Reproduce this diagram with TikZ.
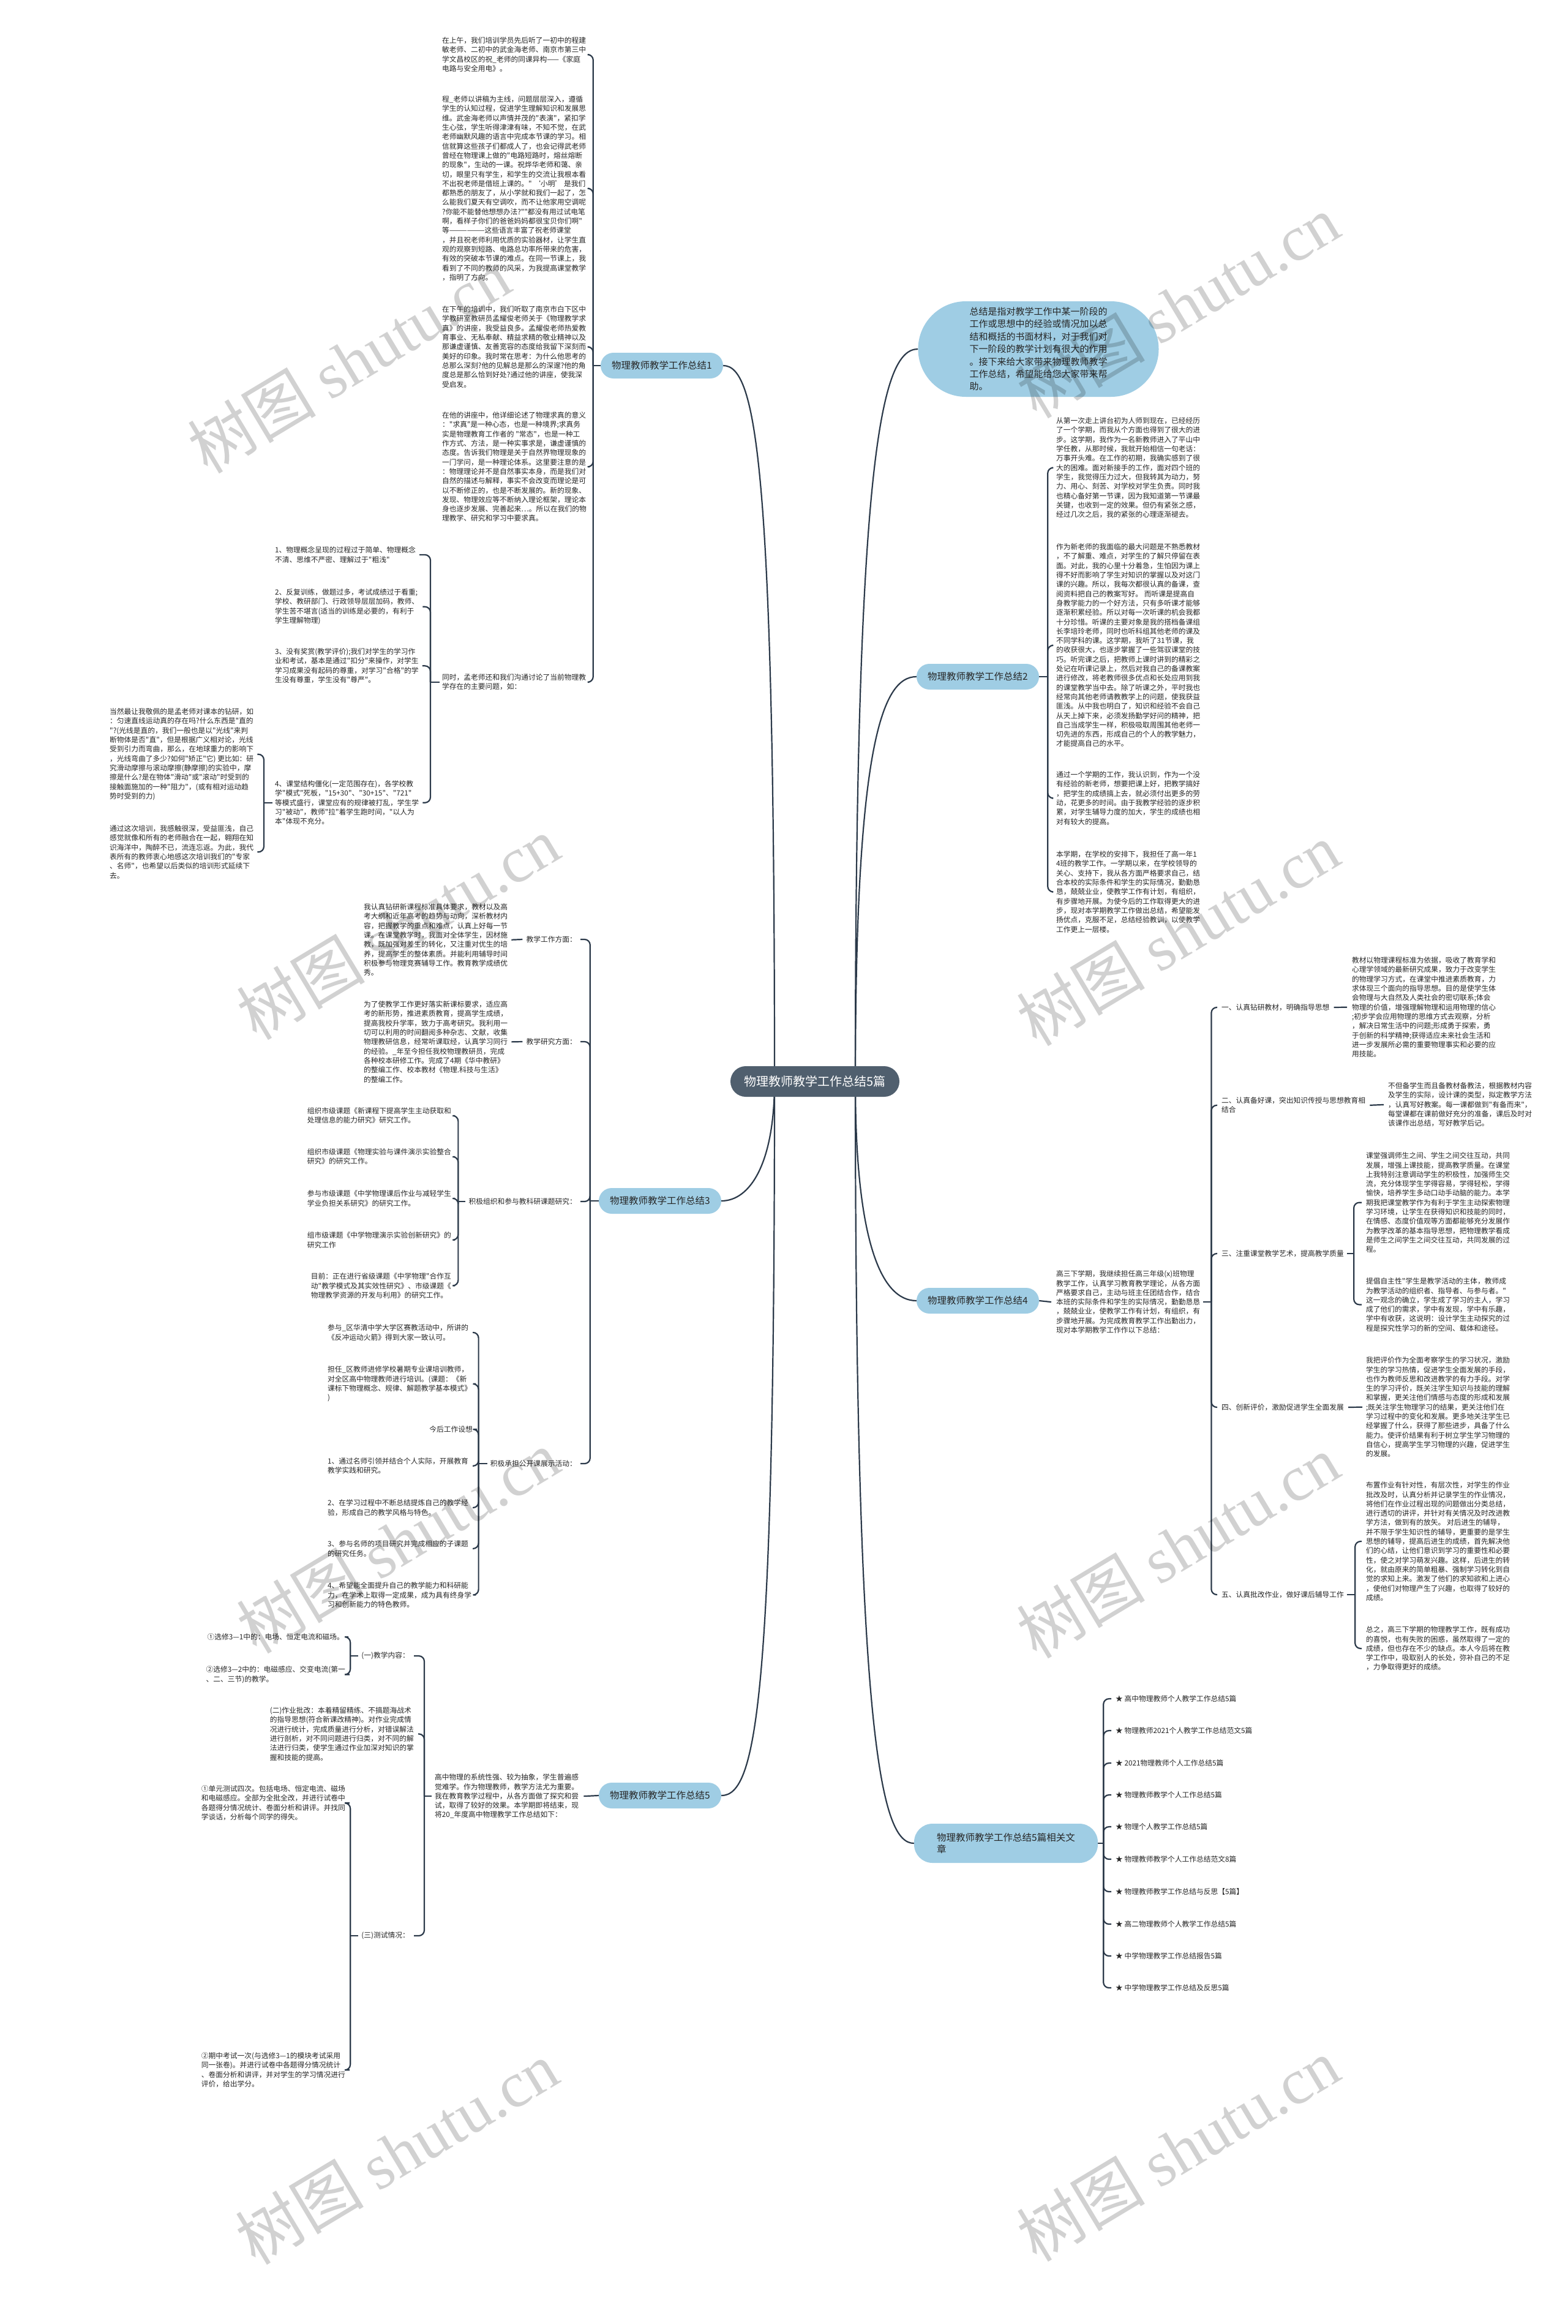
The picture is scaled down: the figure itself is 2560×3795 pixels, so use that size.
\documentclass[tikz,border=0pt]{standalone}
\usepackage{fontspec}
\setmainfont{Noto Sans CJK SC}
\newfontfamily\cjk{Noto Sans CJK SC}
\newfontfamily\wmlat{Liberation Serif}
\usetikzlibrary{backgrounds,calc}
\definecolor{lnc}{HTML}{2C3A4A}
\definecolor{txc}{HTML}{262626}
\definecolor{bluef}{HTML}{9FCDE4}
\definecolor{ctrf}{HTML}{505F6E}
\tikzset{
 blk/.style={font=\cjk\fontsize{11.75}{15.3}\selectfont, text=txc, align=left, inner sep=0pt, anchor=north west},
 blke/.style={blk, anchor=north east},
 lbl/.style={font=\cjk\fontsize{11.75}{15.3}\selectfont, text=txc, align=left, inner sep=0pt},
 brn/.style={fill=bluef, rounded corners=21pt, minimum height=42pt, minimum width=200pt, inner sep=0pt, font=\cjk\fontsize{15.5}{19}\selectfont, text=txc, align=center},
 ctr/.style={fill=ctrf, text=white, rounded corners=25pt, minimum width=276pt, minimum height=50pt, inner sep=0pt, font=\cjk\fontsize{20}{24}\selectfont},
 ln/.style={draw=lnc, line width=2.2pt},
 bk/.style={ln, rounded corners=9pt},
 wm/.style={font=\fontsize{105}{105}\selectfont, text=black, opacity=0.18, rotate=31, inner sep=0pt}
}
\begin{document}
\begin{tikzpicture}[x=1pt,y=-1pt]
\useasboundingbox (0,0) rectangle (2560,3795);

% ---------- centre and main branches
\node[ctr] (C) at (1331,1766) {物理教师教学工作总结5篇};
\coordinate (CL) at (1265,1766);
\coordinate (CR) at (1397,1766);
\node[brn] (N1) at (1081,597) {物理教师教学工作总结1};
\node[brn] (N2) at (1597,1105) {物理教师教学工作总结2};
\node[brn] (N3) at (1078,1961) {物理教师教学工作总结3};
\node[brn] (N4) at (1597,2124) {物理教师教学工作总结4};
\node[brn] (N5) at (1078,2932) {物理教师教学工作总结5};
\node[brn, minimum width=300pt, minimum height=64pt, rounded corners=30pt, align=left] (NR) at (1643,3010) {物理教师教学工作总结5篇相关文\\章};
\node[fill=bluef, rounded corners=78pt, minimum width=393pt, minimum height=156pt, inner sep=0pt, align=left, text=txc, font=\cjk\fontsize{15}{20.4}\selectfont] (NI) at (1696,570) {总结是指对教学工作中某一阶段的\\工作或思想中的经验或情况加以总\\结和概括的书面材料，对于我们对\\下一阶段的教学计划有很大的作用\\。接下来给大家带来物理教师教学\\工作总结，希望能给您大家带来帮\\助。};

% ---------- branch 1
\node[blk] (B1a) at (722,60.5) {在上午，我们培训学员先后听了一初中的程建\\敏老师、二初中的武金海老师、南京市第三中\\学文昌校区的祝\_老师的同课异构——《家庭\\电路与安全用电》。};
\node[blk] (B1b) at (722,156.5) {程\_老师以讲稿为主线，问题层层深入，遵循\\学生的认知过程，促进学生理解知识和发展思\\维。武金海老师以声情并茂的"表演"，紧扣学\\生心弦，学生听得津津有味，不知不觉，在武\\老师幽默风趣的语言中完成本节课的学习。相\\信就算这些孩子们都成人了，也会记得武老师\\曾经在物理课上做的"电路短路时，熔丝熔断\\的现象"，生动的一课。祝烨华老师和蔼、亲\\切，眼里只有学生，和学生的交流让我根本看\\不出祝老师是借班上课的。" ‘小明’ 是我们\\都熟悉的朋友了，从小学就和我们一起了，怎\\么能我们夏天有空调吹，而不让他家用空调呢\\?你能不能替他想想办法?""都没有用过试电笔\\啊，看样子你们的爸爸妈妈都很宝贝你们啊"\\等——————这些语言丰富了祝老师课堂\\，并且祝老师利用优质的实验器材，让学生直\\观的观察到短路、电路总功率所带来的危害，\\有效的突破本节课的难点。在同一节课上，我\\看到了不同的教师的风采，为我提高课堂教学\\，指明了方向。};
\node[blk] (B1c) at (722,499.5) {在下午的培训中，我们听取了南京市白下区中\\学教研室教研员孟耀俊老师关于《物理教学求\\真》的讲座，我受益良多。孟耀俊老师热爱教\\育事业、无私奉献、精益求精的敬业精神以及\\那谦虚谨慎、友善宽容的态度给我留下深刻而\\美好的印象。我时常在思考：为什么他思考的\\总那么深刻?他的见解总是那么的深邃?他的角\\度总是那么恰到好处?通过他的讲座，使我深\\受启发。};
\node[blk] (B1d) at (722,672.5) {在他的讲座中，他详细论述了物理求真的意义\\："求真"是一种心态，也是一种境界;求真务\\实是物理教育工作者的 "常态"，也是一种工\\作方式、方法，是一种实事求是，谦虚谨慎的\\态度。告诉我们物理是关于自然界物理现象的\\一门学问，是一种理论体系。这里要注意的是\\：物理理论并不是自然事实本身，而是我们对\\自然的描述与解释，事实不会改变而理论是可\\以不断修正的，也是不断发展的。新的现象、\\发现、物理效应等不断纳入理论框架，理论本\\身也逐步发展、完善起来…。所以在我们的物\\理教学、研究和学习中要求真。};
\node[blk] (B1e) at (722,1100.5) {同时，孟老师还和我们沟通讨论了当前物理教\\学存在的主要问题，如：};
\node[blk] (B1e1) at (449,892.5) {1、物理概念呈现的过程过于简单、物理概念\\不清、思维不严密、理解过于"粗浅"};
\node[blk] (B1e2) at (449,961.5) {2、反复训练，做题过多，考试成绩过于看重;\\学校、教研部门、行政领导层层加码，教师、\\学生苦不堪言(适当的训练是必要的，有利于\\学生理解物理)};
\node[blk] (B1e3) at (449,1058.5) {3、没有奖赏(教学评价);我们对学生的学习作\\业和考试，基本是通过"扣分"来操作，对学生\\学习成果没有起码的尊重，对学习"合格"的学\\生没有尊重，学生没有"尊严"。};
\node[blk] (B1e4) at (449,1274.5) {4、课堂结构僵化(一定范围存在)，各学校教\\学"模式"死板，"15+30"、"30+15"、"721"\\等模式盛行，课堂应有的规律被打乱，学生学\\习"被动"，教师"拉"着学生跑时间，"以人为\\本"体现不充分。};
\node[blk] (B1e4a) at (179,1156.5) {当然最让我敬佩的是孟老师对课本的钻研，如\\：匀速直线运动真的存在吗?什么东西是"直的\\"?(光线是直的，我们一般也是以"光线"来判\\断物体是否"直"，但是根据广义相对论，光线\\受到引力而弯曲，那么，在地球重力的影响下\\，光线弯曲了多少?如何"矫正"它) 更比如：研\\究滑动摩擦与滚动摩擦(静摩擦)的实验中，摩\\擦是什么?是在物体"滑动"或"滚动"时受到的\\接触面施加的一种"阻力"，(或有相对运动趋\\势时受到的力)};
\node[blk] (B1e4b) at (179,1347.5) {通过这次培训，我感触很深，受益匪浅，自己\\感觉就像和所有的老师融合在一起，翱翔在知\\识海洋中，陶醉不已，流连忘返。为此，我代\\表所有的教师衷心地感这次培训我们的"专家\\、名师"，也希望以后类似的培训形式延续下\\去。};

% ---------- branch 2
\node[blk] (B2a) at (1725,681.5) {从第一次走上讲台初为人师到现在，已经经历\\了一个学期，而我从个方面也得到了很大的进\\步。这学期，我作为一名新教师进入了平山中\\学任教，从那时候，我就开始相信一句老话：\\万事开头难。在工作的初期，我确实感到了很\\大的困难。面对新接手的工作，面对四个班的\\学生，我觉得压力过大，但我转其为动力，努\\力、用心、刻苦、对学校对学生负责。同时我\\也精心备好第一节课，因为我知道第一节课最\\关键，也收到一定的效果。但仍有紧张之感，\\经过几次之后，我的紧张的心理逐渐褪去。};
\node[blk] (B2b) at (1725,887.5) {作为新老师的我面临的最大问题是不熟悉教材\\，不了解重、难点，对学生的了解只停留在表\\面。对此，我的心里十分着急，生怕因为课上\\得不好而影响了学生对知识的掌握以及对这门\\课的兴趣。所以，我每次都很认真的备课，查\\阅资料把自己的教案写好。 而听课是提高自\\身教学能力的一个好方法，只有多听课才能够\\逐渐积累经验。所以对每一次听课的机会我都\\十分珍惜。听课的主要对象是我的搭档备课组\\长李培玲老师，同时也听科组其他老师的课及\\不同学科的课。这学期，我听了31节课，我\\的收获很大，也逐步掌握了一些驾驭课堂的技\\巧。听完课之后，把教师上课时讲到的精彩之\\处记在听课记录上，然后对我自己的备课教案\\进行修改，将老教师很多优点和长处应用到我\\的课堂教学当中去。除了听课之外，平时我也\\经常向其他老师请教教学上的问题，使我获益\\匪浅。从中我也明白了，知识和经验不会自己\\从天上掉下来，必须发扬勤学好问的精神，把\\自己当成学生一样，积极吸取周围其他老师一\\切先进的东西，形成自己的个人的教学魅力，\\才能提高自己的水平。};
\node[blk] (B2c) at (1725,1259.5) {通过一个学期的工作，我认识到，作为一个没\\有经验的新老师，想要把课上好，把教学搞好\\，把学生的成绩搞上去，就必须付出更多的劳\\动，花更多的时间。由于我教学经验的逐步积\\累，对学生辅导力度的加大，学生的成绩也相\\对有较大的提高。};
\node[blk] (B2d) at (1725,1389.5) {本学期，在学校的安排下，我担任了高一年1\\4班的教学工作。一学期以来，在学校领导的\\关心、支持下，我从各方面严格要求自己，结\\合本校的实际条件和学生的实际情况，勤勤恳\\恳，兢兢业业，使教学工作有计划，有组织，\\有步骤地开展。为使今后的工作取得更大的进\\步，现对本学期教学工作做出总结，希望能发\\扬优点，克服不足，总结经验教训，以使教学\\工作更上一层楼。};

% ---------- branch 3
\node[lbl, anchor=east] (L3a) at (942,1534) {教学工作方面：};
\node[lbl, anchor=east] (L3b) at (942,1701) {教学研究方面：};
\node[lbl, anchor=east] (L3c) at (942,1962) {积极组织和参与教科研课题研究：};
\node[lbl, anchor=east] (L3d) at (942,2390) {积极承担公开课展示活动：};
\node[blk] (B3a) at (594,1475.5) {我认真钻研新课程标准具体要求，教材以及高\\考大纲和近年高考的趋势与动向，深析教材内\\容，把握教学的重点和难点，认真上好每一节\\课。在课堂教学时，我面对全体学生，因材施\\教，既加强对差生的转化，又注重对优生的培\\养，提高学生的整体素质。并能利用辅导时间\\积极参与物理竞赛辅导工作。教育教学成绩优\\秀。};
\node[blk] (B3b) at (594,1634.5) {为了使教学工作更好落实新课标要求，适应高\\考的新形势，推进素质教育，提高学生成绩，\\提高我校升学率，致力于高考研究。我利用一\\切可以利用的时间翻阅多种杂志、文献，收集\\物理教研信息，经常听课取经，认真学习同行\\的经验。\_年至今担任我校物理教研员，完成\\各种校本研修工作。完成了4期《华中教研》\\的整编工作、校本教材《物理.科技与生活》\\的整编工作。};
\node[blke] (B3c1) at (737,1808.5) {组织市级课题《新课程下提高学生主动获取和\\处理信息的能力研究》研究工作。};
\node[blke] (B3c2) at (737,1875.5) {组织市级课题《物理实验与课件演示实验整合\\研究》的研究工作。};
\node[blke] (B3c3) at (737,1943.5) {参与市级课题《中学物理课后作业与减轻学生\\学业负担关系研究》的研究工作。};
\node[blke] (B3c4) at (737,2011.5) {组市级课题《中学物理演示实验创新研究》的\\研究工作};
\node[blke] (B3c5) at (737,2078.5) {目前：正在进行省级课题《中学物理"合作互\\动"教学模式及其实效性研究》、市级课题《\\物理教学资源的开发与利用》的研究工作。};
\node[blk] (B3d1) at (535,2162.5) {参与\_区华清中学大学区赛教活动中，所讲的\\《反冲运动火箭》得到大家一致认可。};
\node[blk] (B3d2) at (535,2230.5) {担任\_区教师进修学校暑期专业课培训教师，\\对全区高中物理教师进行培训。(课题：《新\\课标下物理概念、规律、解题教学基本模式》\\)};
\node[lbl, anchor=east] (B3d3) at (772,2334) {今后工作设想};
\node[blk] (B3d4) at (535,2380.5) {1、通过名师引领并结合个人实际，开展教育\\教学实践和研究。};
\node[blk] (B3d5) at (535,2448.5) {2、在学习过程中不断总结提炼自己的教学经\\验，形成自己的教学风格与特色。};
\node[blk] (B3d6) at (535,2515.5) {3、参与名师的项目研究并完成相应的子课题\\的研究任务。};
\node[blk] (B3d7) at (535,2583.5) {4、希望能全面提升自己的教学能力和科研能\\力，在学术上取得一定成果，成为具有终身学\\习和创新能力的特色教师。};

% ---------- branch 4
\node[blk] (B4) at (1725,2074.5) {高三下学期，我继续担任高三年级(x)班物理\\教学工作，认真学习教育教学理论，从各方面\\严格要求自己，主动与班主任团结合作，结合\\本班的实际条件和学生的实际情况，勤勤恳恳\\，兢兢业业，使教学工作有计划，有组织，有\\步骤地开展。为完成教育教学工作出勤出力，\\现对本学期教学工作作以下总结：};
\node[lbl, anchor=west] (L4a) at (1995,1645) {一、认真钻研教材，明确指导思想};
\node[blk] (L4b) at (1995,1791.5) {二、认真备好课，突出知识传授与思想教育相\\结合};
\node[lbl, anchor=west] (L4c) at (1995,2047) {三、注重课堂教学艺术，提高教学质量};
\node[lbl, anchor=west] (L4d) at (1995,2298) {四、创新评价，激励促进学生全面发展};
\node[lbl, anchor=west] (L4e) at (1995,2604) {五、认真批改作业，做好课后辅导工作};
\node[blk] (B4a) at (2208,1562.5) {教材以物理课程标准为依据，吸收了教育学和\\心理学领域的最新研究成果，致力于改变学生\\的物理学习方式，在课堂中推进素质教育，力\\求体现三个面向的指导思想。目的是使学生体\\会物理与大自然及人类社会的密切联系;体会\\物理的价值，增强理解物理和运用物理的信心\\;初步学会应用物理的思维方式去观察，分析\\，解决日常生活中的问题;形成勇于探索，勇\\于创新的科学精神;获得适应未来社会生活和\\进一步发展所必需的重要物理事实和必要的应\\用技能。};
\node[blk] (B4b) at (2267,1767.5) {不但备学生而且备教材备教法，根据教材内容\\及学生的实际，设计课的类型，拟定教学方法\\，认真写好教案。每一课都做到"有备而来"，\\每堂课都在课前做好充分的准备，课后及时对\\该课作出总结，写好教学后记。};
\node[blk] (B4c1) at (2231,1881.5) {课堂强调师生之间、学生之间交往互动，共同\\发展，增强上课技能，提高教学质量。在课堂\\上我特别注意调动学生的积极性，加强师生交\\流，充分体现学生学得容易，学得轻松，学得\\愉快，培养学生多动口动手动脑的能力。本学\\期我把课堂教学作为有利于学生主动探索物理\\学习环境，让学生在获得知识和技能的同时，\\在情感、态度价值观等方面都能够充分发展作\\为教学改革的基本指导思想，把物理教学看成\\是师生之间学生之间交往互动，共同发展的过\\程。};
\node[blk] (B4c2) at (2231,2086.5) {提倡自主性"学生是教学活动的主体，教师成\\为教学活动的组织者、指导者、与参与者。"\\这一观念的确立，学生成了学习的主人，学习\\成了他们的需求，学中有发现，学中有乐趣，\\学中有收获，这说明：设计学生主动探究的过\\程是探究性学习的新的空间、载体和途径。};
\node[blk] (B4d) at (2231,2215.5) {我把评价作为全面考察学生的学习状况，激励\\学生的学习热情，促进学生全面发展的手段，\\也作为教师反思和改进教学的有力手段。对学\\生的学习评价，既关注学生知识与技能的理解\\和掌握，更关注他们情感与态度的形成和发展\\;既关注学生物理学习的结果，更关注他们在\\学习过程中的变化和发展。更多地关注学生已\\经掌握了什么，获得了那些进步，具备了什么\\能力。使评价结果有利于树立学生学习物理的\\自信心，提高学生学习物理的兴趣，促进学生\\的发展。};
\node[blk] (B4e1) at (2231,2419.5) {布置作业有针对性，有层次性，对学生的作业\\批改及时，认真分析并记录学生的作业情况，\\将他们在作业过程出现的问题做出分类总结，\\进行透切的讲评，并针对有关情况及时改进教\\学方法，做到有的放矢。 对后进生的辅导，\\并不限于学生知识性的辅导，更重要的是学生\\思想的辅导，提高后进生的成绩，首先解决他\\们的心结，让他们意识到学习的重要性和必要\\性，使之对学习萌发兴趣。这样，后进生的转\\化，就由原来的简单粗暴、强制学习转化到自\\觉的求知上来。激发了他们的求知欲和上进心\\，使他们对物理产生了兴趣，也取得了较好的\\成绩。};
\node[blk] (B4e2) at (2231,2655.5) {总之，高三下学期的物理教学工作，既有成功\\的喜悦，也有失败的困惑，虽然取得了一定的\\成绩，但也存在不少的缺点。本人今后将在教\\学工作中，吸取别人的长处，弥补自己的不足\\，力争取得更好的成绩。};

% ---------- branch 5
\node[blk] (B5) at (710,2896.5) {高中物理的系统性强、较为抽象，学生普遍感\\觉难学。作为物理教师，教学方法尤为重要。\\我在教育教学过程中，从各方面做了探究和尝\\试，取得了较好的效果。本学期即将结束，现\\将20\_年度高中物理教学工作总结如下：};
\node[lbl, anchor=east] (L5a) at (669,2704) {(一)教学内容：};
\node[blke] (B5b) at (676,2787.5) {(二)作业批改：本着精留精练、不搞题海战术\\的指导思想(符合新课改精神)。对作业完成情\\况进行统计，完成质量进行分析，对错误解法\\进行剖析，对不同问题进行归类，对不同的解\\法进行归类，使学生通过作业加深对知识的掌\\握和技能的提高。};
\node[lbl, anchor=east] (L5c) at (669,3161) {(三)测试情况：};
\node[lbl, anchor=east] (I5a1) at (562,2673) {①选修3—1中的：电场、恒定电流和磁场。};
\node[blke] (I5a2) at (564,2720.5) {②选修3—2中的：电磁感应、交变电流(第一\\、二、三节)的教学。};
\node[blke] (I5c1) at (564,2915.5) {①单元测试四次。包括电场、恒定电流、磁场\\和电磁感应。全部为全批全改，并进行试卷中\\各题得分情况统计、卷面分析和讲评。并找同\\学谈话，分析每个同学的得失。};
\node[blke] (I5c2) at (564,3351.5) {②期中考试一次(与选修3—1的模块考试采用\\同一张卷)。并进行试卷中各题得分情况统计\\、卷面分析和讲评，并对学生的学习情况进行\\评价，给出学分。};

% ---------- related
\foreach \i/\yy/\tx in {1/2774/高中物理教师个人教学工作总结5篇, 2/2826/物理教师2021个人教学工作总结范文5篇, 3/2879/2021物理教师个人工作总结5篇, 4/2931/物理教师教学个人工作总结5篇, 5/2983/物理个人教学工作总结5篇, 6/3036/物理教师教学个人工作总结范文8篇, 7/3089/物理教师教学工作总结与反思【5篇】, 8/3142/高二物理教师个人教学工作总结5篇, 9/3194/中学物理教学工作总结报告5篇, 10/3246/中学物理教学工作总结及反思5篇}
  {\node[lbl, anchor=west] (R\i) at (1822,\yy) {★ \tx};}

% ---------- connectors
\begin{scope}[on background layer]
\fill[white] (0,0) rectangle (2560,3795);
\draw[ln] (CL) .. controls (1265,760) and (1235,597) .. (N1.east);
\draw[ln] (CL) .. controls (1265,1900) and (1225,1961) .. (N3.east);
\draw[ln] (CL) .. controls (1265,2780) and (1235,2932) .. (N5.east);
\draw[ln] (CR) .. controls (1397,740) and (1440,570) .. (NI.west);
\draw[ln] (CR) .. controls (1397,1220) and (1440,1105) .. (N2.west);
\draw[ln] (CR) .. controls (1397,2030) and (1440,2124) .. (N4.west);
\draw[ln] (CR) .. controls (1397,2850) and (1440,3010) .. (NR.west);

% branch 1
\coordinate (J1) at ($(N1.west)+(-12,0)$);
\draw[ln] (N1.west) -- (J1);
\foreach \k in {B1a,B1b,B1c,B1d,B1e} {\draw[bk] (J1) |- ([xshift=5pt]\k.east);}
\coordinate (J1e) at ($(B1e.west)+(-19,0)$);
\draw[ln] ([xshift=-4pt]B1e.west) -- (J1e);
\foreach \k in {B1e1,B1e2,B1e3,B1e4} {\draw[bk] (J1e) |- ([xshift=6pt]\k.east);}
\coordinate (J1f) at ($(B1e4.west)+(-18,0)$);
\draw[ln] ([xshift=-4pt]B1e4.west) -- (J1f);
\foreach \k in {B1e4a,B1e4b} {\draw[bk] (J1f) |- ([xshift=6pt]\k.east);}

% branch 2
\coordinate (J2) at ($(N2.east)+(14,0)$);
\draw[ln] (N2.east) -- (J2);
\foreach \k in {B2a,B2b,B2c,B2d} {\draw[bk] (J2) |- ([xshift=-7pt]\k.west);}

% branch 3
\coordinate (J3) at ($(N3.west)+(-14,0)$);
\draw[ln] (N3.west) -- (J3);
\foreach \k in {L3a,L3b,L3c,L3d} {\draw[bk] (J3) |- ([xshift=6pt]\k.east);}
\draw[ln] ([xshift=-6pt]L3a.west) -- ([xshift=6pt]B3a.east);
\draw[ln] ([xshift=-6pt]L3b.west) -- ([xshift=6pt]B3b.east);
\coordinate (J3c) at ($(L3c.west)+(-17,0)$);
\draw[ln] ([xshift=-5pt]L3c.west) -- (J3c);
\foreach \k in {B3c1,B3c2,B3c3,B3c4,B3c5} {\draw[bk] (J3c) |- ([xshift=6pt]\k.east);}
\coordinate (J3d) at ($(L3d.west)+(-19,0)$);
\draw[ln] ([xshift=-5pt]L3d.west) -- (J3d);
\foreach \k in {B3d1,B3d2,B3d3,B3d4,B3d5,B3d6,B3d7} {\draw[bk] (J3d) |- ([xshift=7pt]\k.east);}

% branch 4
\draw[ln] (N4.east) -- ([xshift=-8pt]B4.west);
\coordinate (J4) at ($(B4.east)+(18,0)$);
\draw[ln] ([xshift=5pt]B4.east) -- (J4);
\foreach \k in {L4a,L4b,L4c,L4d,L4e} {\draw[bk] (J4) |- ([xshift=-7pt]\k.west);}
\draw[ln] ([xshift=7pt]L4a.east) -- ([xshift=-8pt]B4a.west);
\draw[ln] ([xshift=7pt]L4b.east) -- ([xshift=-7pt]B4b.west);
\draw[ln] ([xshift=7pt]L4d.east) -- ([xshift=-6pt]B4d.west);
\coordinate (J4c) at ($(L4c.east)+(16,0)$);
\draw[ln] ([xshift=5pt]L4c.east) -- (J4c);
\foreach \k in {B4c1,B4c2} {\draw[bk] (J4c) |- ([xshift=-7pt]\k.west);}
\coordinate (J4e) at ($(L4e.east)+(18,0)$);
\draw[ln] ([xshift=5pt]L4e.east) -- (J4e);
\foreach \k in {B4e1,B4e2} {\draw[bk] (J4e) |- ([xshift=-7pt]\k.west);}

% branch 5
\draw[ln] (N5.west) -- ([xshift=8pt]B5.east);
\coordinate (J5) at ($(B5.west)+(-17,0)$);
\draw[ln] ([xshift=-5pt]B5.west) -- (J5);
\foreach \k in {L5a,B5b,L5c} {\draw[bk] (J5) |- ([xshift=7pt]\k.east);}
\coordinate (J5a) at ($(L5a.west)+(-18,0)$);
\draw[ln] ([xshift=-5pt]L5a.west) -- (J5a);
\foreach \k in {I5a1,I5a2} {\draw[bk] (J5a) |- ([xshift=7pt]\k.east);}
\coordinate (J5c) at ($(L5c.west)+(-18,0)$);
\draw[ln] ([xshift=-5pt]L5c.west) -- (J5c);
\foreach \k in {I5c1,I5c2} {\draw[bk] (J5c) |- ([xshift=7pt]\k.east);}

% related
\coordinate (J6) at ($(NR.east)+(9,0)$);
\draw[ln] (NR.east) -- (J6);
\foreach \k in {1,...,10} {\draw[bk] (J6) |- ([xshift=-7pt]R\k.west);}
\end{scope}

% ---------- watermarks
\foreach \wx/\wy in {570/590, 1924/500, 650/1515, 1924/1525, 650/2517, 1924/2525, 648/3515, 1924/3510}
  {\node[wm] at (\wx,\wy) {{\cjk 树图} {\wmlat shutu.cn}};}
\end{tikzpicture}
\end{document}
